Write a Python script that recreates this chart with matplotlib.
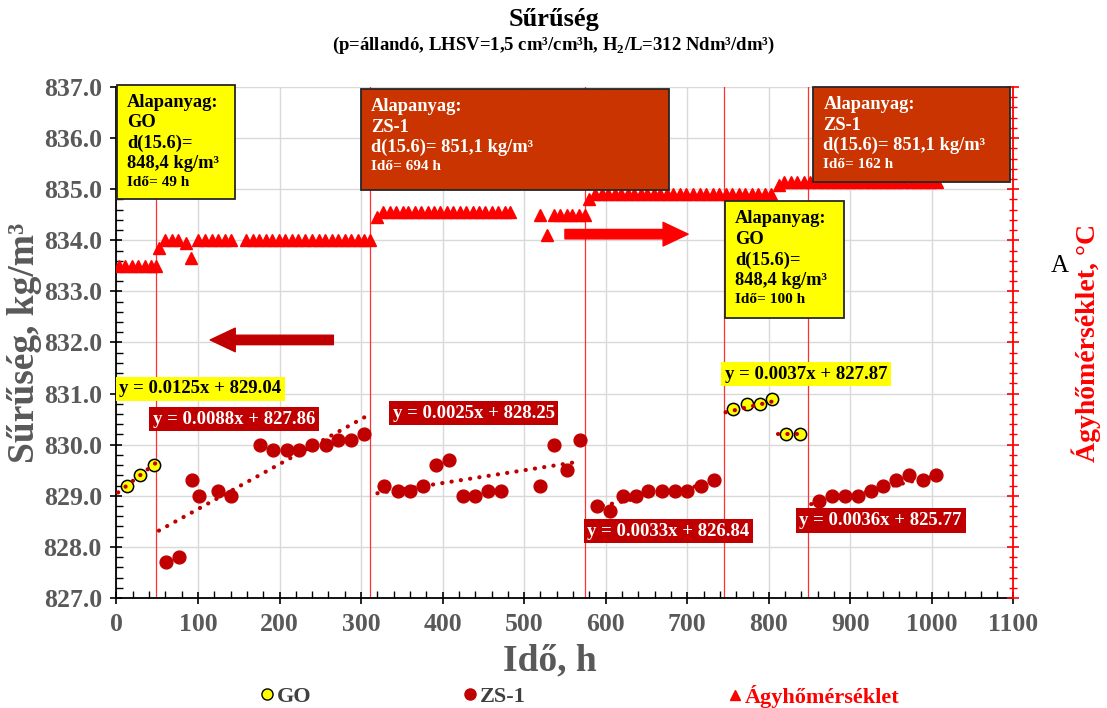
import numpy as np
import matplotlib.pyplot as plt
from matplotlib.ticker import MultipleLocator, FormatStrFormatter
from matplotlib.patches import Rectangle
from matplotlib.lines import Line2D

plt.rcParams['font.family'] = ['Liberation Serif', 'DejaVu Serif']
plt.rcParams['font.weight'] = 'bold'
plt.rcParams['mathtext.fontset'] = 'custom'
plt.rcParams['mathtext.rm'] = 'Liberation Serif:bold'
plt.rcParams['mathtext.bf'] = 'Liberation Serif:bold'

GRAY = '#595959'
DARKRED = '#C00000'
RUST = '#C93400'
YELLOW = '#FFFF00'

# GO feed samples
go_t = [13, 29, 46, 756, 773, 789, 804, 821, 838]
go_d = [829.2, 829.4, 829.6, 830.7, 830.8, 830.8, 830.9, 830.2, 830.2]

# ZS-1 feed samples
zs_t = [61, 77, 93, 101, 124, 141, 176, 192, 209, 224, 240, 257, 272, 288, 304,
        328, 345, 360, 376, 392, 408, 425, 440, 456, 472, 520, 536, 552, 568,
        589, 605, 621, 637, 652, 669, 685, 700, 717, 733,
        861, 877, 893, 909, 925, 940, 956, 972, 989, 1005]
zs_d = [827.7, 827.8, 829.3, 829.0, 829.1, 829.0, 830.0, 829.9, 829.9, 829.9, 830.0, 830.0, 830.1, 830.1, 830.2,
        829.2, 829.1, 829.1, 829.2, 829.6, 829.7, 829.0, 829.0, 829.1, 829.1, 829.2, 830.0, 829.5, 830.1,
        828.8, 828.7, 829.0, 829.0, 829.1, 829.1, 829.1, 829.1, 829.2, 829.3,
        828.9, 829.0, 829.0, 829.0, 829.1, 829.2, 829.3, 829.4, 829.3, 829.4]

# bed temperature, position on the right-hand axis
agy_t = [3, 11, 19, 27, 35, 42, 48,
         52,
         60, 68, 76,
         85, 92,
         100, 108, 117, 125, 133, 140,
         159, 167, 175, 183, 191, 199, 207, 215, 223, 231, 240, 248, 256, 264, 272, 280, 288, 296, 304, 311,
         319,
         327, 335, 343, 351, 358, 366, 374, 382, 390, 397, 405, 413, 421, 429, 437, 444, 452, 460, 468, 476, 483,
         520, 528,
         536, 544, 552, 559, 567, 575,
         580,
         587, 595, 603, 611, 619, 627, 635, 643, 651, 659, 667, 675, 683, 691, 699, 707, 715, 723, 731, 739,
         747, 755, 763, 771, 779, 787, 795, 803,
         813,
         819, 827, 835, 843, 851, 860, 868, 876, 884, 892, 900, 908, 917, 925, 933, 941, 949, 957, 965, 974,
         982, 990, 998, 1006]
agy_v = [833.5, 833.5, 833.5, 833.5, 833.5, 833.5, 833.5,
         833.85,
         834.0, 834.0, 834.0,
         833.95, 833.65,
         834.0, 834.0, 834.0, 834.0, 834.0, 834.0,
         834.0, 834.0, 834.0, 834.0, 834.0, 834.0, 834.0, 834.0, 834.0, 834.0, 834.0, 834.0, 834.0, 834.0,
         834.0, 834.0, 834.0, 834.0, 834.0, 834.0,
         834.45,
         834.55, 834.55, 834.55, 834.55, 834.55, 834.55, 834.55, 834.55, 834.55, 834.55, 834.55, 834.55,
         834.55, 834.55, 834.55, 834.55, 834.55, 834.55, 834.55, 834.55, 834.55,
         834.5, 834.1,
         834.5, 834.5, 834.5, 834.5, 834.5, 834.5,
         834.8,
         834.9, 834.9, 834.9, 834.9, 834.9, 834.9, 834.9, 834.9, 834.9, 834.9, 834.9, 834.9, 834.9, 834.9,
         834.9, 834.9, 834.9, 834.9, 834.9, 834.9, 834.9, 834.9, 834.9, 834.9, 834.9, 834.9, 834.9, 834.9,
         835.08,
         835.15, 835.15, 835.15, 835.15, 835.15, 835.15, 835.15, 835.15, 835.15, 835.15, 835.15, 835.15,
         835.15, 835.15, 835.15, 835.15, 835.15, 835.15, 835.15, 835.15, 835.15, 835.15, 835.15, 835.15]

# linear trends: slope, intercept, fitted range
trend_k = [0.0125, 0.0088, 0.0025, 0.0037, 0.0033, 0.0036]
trend_b = [829.04, 827.86, 828.25, 827.87, 826.84, 825.77]
trend_from = [2, 52, 320, 747, 585, 852]
trend_to = [48, 309, 565, 805, 742, 1008]
trend_fill = [YELLOW, DARKRED, DARKRED, YELLOW, DARKRED, DARKRED]
trend_ink = ['black', 'white', 'white', 'black', 'white', 'white']
label_t = [103, 144, 438, 846, 677, 937]
label_d = [831.09, 830.50, 830.62, 831.38, 828.31, 828.52]

# feed switch times
switch_t = [48, 311, 575, 745, 848]

fig = plt.figure(figsize=(11.07, 7.08), dpi=100)
ax = fig.add_axes([0.1052, 0.1554, 0.8103, 0.7217])
ax2 = ax.twinx()

for t in switch_t:
    ax.axvline(t, color='#FF3030', lw=0.9, zorder=1)

ax.scatter(zs_t, zs_d, s=85, color=DARKRED, zorder=3)
ax.scatter(go_t, go_d, s=78, color=YELLOW, edgecolor='black', linewidth=1.1, zorder=3)

dots = (0, (0.05, 2.2))
for k, b, t0, t1 in zip(trend_k, trend_b, trend_from, trend_to):
    tt = np.linspace(t0, t1, 50)
    ax.plot(tt, k * tt + b, color=DARKRED, lw=3, linestyle=dots,
            dash_capstyle='round', zorder=4)

# short trend through the last two GO samples
k7, b7 = np.polyfit(go_t[-2:], go_d[-2:], 1)
tt = np.linspace(811, 838, 10)
ax.plot(tt, k7 * tt + b7, color=DARKRED, lw=3, linestyle=dots,
        dash_capstyle='round', zorder=4)

ax2.plot(agy_t, agy_v, linestyle='none', marker='^', ms=8.5, color='#FF0000', zorder=3)

ax.set_xlim(0, 1100)
ax.set_ylim(827, 837)
ax2.set_ylim(827, 837)
ax.xaxis.set_major_locator(MultipleLocator(100))
ax.xaxis.set_minor_locator(MultipleLocator(20))
ax.yaxis.set_major_locator(MultipleLocator(1))
ax.yaxis.set_minor_locator(MultipleLocator(0.2))
ax.yaxis.set_major_formatter(FormatStrFormatter('%.1f'))
ax2.yaxis.set_major_locator(MultipleLocator(1))
ax2.yaxis.set_minor_locator(MultipleLocator(0.2))
ax2.set_yticklabels([])

ax.grid(which='major', color='#D9D9D9', lw=1)
ax.set_axisbelow(True)
ax.tick_params(which='major', direction='inout', length=9, width=1.2, colors='black',
               labelcolor=GRAY, labelsize=18.5, pad=6)
ax.tick_params(which='minor', direction='in', length=5, width=1)
ax2.tick_params(axis='y', which='major', direction='inout', length=9, width=1.2, colors='#FF0000')
ax2.tick_params(axis='y', which='minor', direction='inout', length=6, width=1, colors='#FF0000')
for lab in ax.get_xticklabels() + ax.get_yticklabels():
    lab.set_fontweight('bold')

for a in (ax, ax2):
    a.spines['top'].set_visible(False)
ax.spines['right'].set_visible(False)
ax2.spines['left'].set_visible(False)
ax2.spines['bottom'].set_visible(False)
ax2.spines['right'].set_color('#FF0000')
ax2.spines['right'].set_linewidth(1.3)
ax.spines['left'].set_linewidth(1.3)
ax.spines['bottom'].set_linewidth(1.3)

ax.set_xlabel('Idő, h', fontsize=27, color=GRAY, fontweight='bold', labelpad=6)
ax.xaxis.label.set_x(0.483)
ax.set_ylabel('Sűrűség, kg/m³', fontsize=27, color=GRAY, fontweight='bold', labelpad=1)
ax2.set_ylabel('Ágyhőmérséklet, °C', fontsize=20, color='#FF0000', fontweight='bold', labelpad=34)

fig.text(0.5, 0.973, 'Sűrűség', ha='center', va='center', fontsize=19, fontweight='bold')
fig.text(0.5, 0.936, r'(p=állandó, LHSV=1,5 cm³/cm³h, H$_2$/L=312 Ndm³/dm³)',
         ha='center', va='center', fontsize=13.5, fontweight='bold')
fig.text(0.9575, 0.625, 'A', ha='center', va='center', fontsize=18, fontweight='normal')

# feed info boxes: left, right, bottom, top, face, text colour, main lines, time line
boxes = [
    (0.6, 145.3, 834.81, 837.04, YELLOW, 'black', ['Alapanyag:', 'GO', 'd(15.6)=', '848,4 kg/m³'], 'Idő= 49 h'),
    (299.9, 677.5, 834.98, 836.96, RUST, 'white', ['Alapanyag:', 'ZS-1', 'd(15.6)= 851,1 kg/m³'], 'Idő= 694 h'),
    (854.4, 1095.6, 835.15, 837.0, RUST, 'white', ['Alapanyag:', 'ZS-1', 'd(15.6)= 851,1 kg/m³'], 'Idő= 162 h'),
    (746.0, 892.0, 832.48, 834.76, YELLOW, 'black', ['Alapanyag:', 'GO', 'd(15.6)=', '848,4 kg/m³'], 'Idő= 100 h'),
]
line_step = 20.5 / 51.1
for x0, x1, y0, y1, face, ink, lines, tline in boxes:
    ax2.add_patch(Rectangle((x0, y0), x1 - x0, y1 - y0, facecolor=face, edgecolor='#262626',
                            lw=1.3, zorder=6, clip_on=False))
    tx = x0 + 12.5
    ty = y1 - 17.5 / 51.1
    for line in lines:
        ax2.text(tx, ty, line, ha='left', va='center', fontsize=13.3, color=ink,
                 fontweight='bold', zorder=7, clip_on=False)
        ty -= line_step
    ax2.text(tx, ty + 1.5 / 51.1, tline, ha='left', va='center', fontsize=11,
             color=ink, fontweight='bold', zorder=7, clip_on=False)

for k, b, xt, yt, face, ink in zip(trend_k, trend_b, label_t, label_d, trend_fill, trend_ink):
    ax2.text(xt, yt, f'y = {k:.4f}x + {b:.2f}', ha='center', va='center', fontsize=13.5,
             color=ink, fontweight='bold', zorder=7,
             bbox=dict(boxstyle='square,pad=0.2', facecolor=face, edgecolor='none'))

# direction arrows
ax2.annotate('', xy=(115, 832.05), xytext=(266, 832.05), zorder=6,
             arrowprops=dict(arrowstyle='simple,head_length=1.8,head_width=1.7,tail_width=0.68',
                             color=DARKRED, mutation_scale=10, shrinkA=0, shrinkB=0))
ax2.annotate('', xy=(701, 834.12), xytext=(550, 834.12), zorder=6,
             arrowprops=dict(arrowstyle='simple,head_length=1.8,head_width=1.7,tail_width=0.68',
                             color='#FF0000', mutation_scale=10, shrinkA=0, shrinkB=0))

# legend entries placed one by one along the bottom
entries = [
    (Line2D([], [], linestyle='none', marker='o', ms=8, markerfacecolor=YELLOW, markeredgecolor='black'),
     'GO', '#404040', 0.2349),
    (Line2D([], [], linestyle='none', marker='o', ms=8, color=DARKRED), 'ZS-1', '#404040', 0.4183),
    (Line2D([], [], linestyle='none', marker='^', ms=7.5, color='#FF0000'), 'Ágyhőmérséklet', '#FF0000', 0.6576),
]
for handle, name, c, xpos in entries:
    leg = fig.legend([handle], [name], loc='center left', bbox_to_anchor=(xpos, 0.016),
                     frameon=False, handlelength=0.6, handletextpad=0.15, borderpad=0,
                     borderaxespad=0, prop={'size': 16, 'weight': 'bold'})
    leg.get_texts()[0].set_color(c)

fig.savefig('out.png', dpi=100)
